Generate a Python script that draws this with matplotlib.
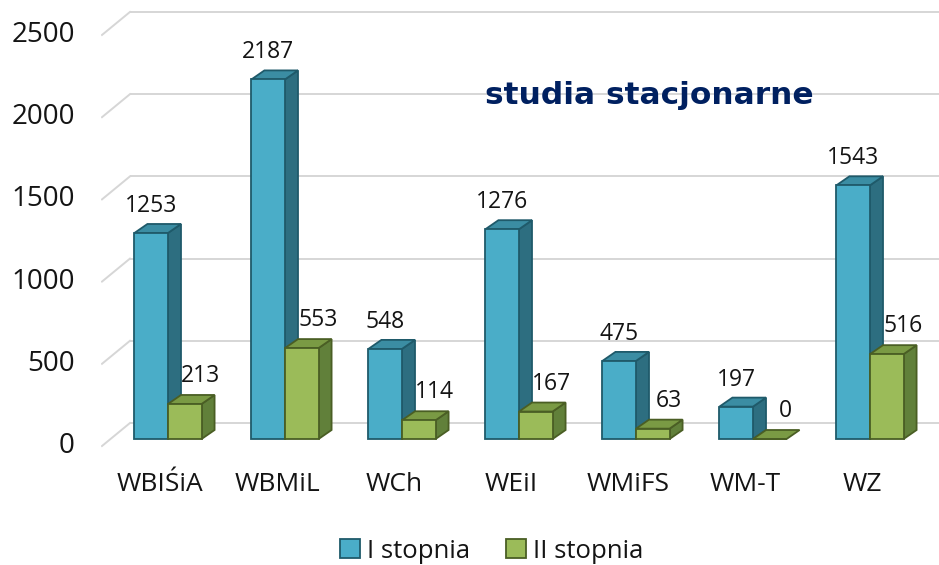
import matplotlib
matplotlib.use('Agg')
import matplotlib.pyplot as plt
from matplotlib.patches import Polygon, Patch

categories = ['WBIŚiA', 'WBMiL', 'WCh', 'WEiI', 'WMiFS', 'WM-T', 'WZ']
stopien_1 = [1253, 2187, 548, 1276, 475, 197, 1543]
stopien_2 = [213, 553, 114, 167, 63, 0, 516]
yticks = [0, 500, 1000, 1500, 2000, 2500]
series_names = ['I stopnia', 'II stopnia']

plt.rcParams['font.family'] = ['Open Sans', 'DejaVu Sans']

W, H, DPI = 939, 565, 100
fig = plt.figure(figsize=(W / DPI, H / DPI), dpi=DPI)
# plot area: 101..939 px wide, 0..460 px from top
ax = fig.add_axes([101 / W, (H - 460) / H, 838 / W, 460 / H])
ax.set_xlim(-0.5726, 6.5897)
ax.set_ylim(-127.7, 2670)
ax.axis('off')

px_x = 1 / 117.0    # category units per pixel
px_y = 1 / 0.1644   # value units per pixel

grid_c = '#d6d6d6'
txt_c = '#141414'

# back wall gridlines + left diagonal
for v in yticks:
    ax.plot([-0.325, 6.5897], [v + 16 * px_y] * 2, color=grid_c, lw=1.4, zorder=0,
            solid_capstyle='butt')
    ax.plot([-0.564, -0.325], [v - 7 * px_y, v + 16 * px_y], color=grid_c, lw=1.4, zorder=0)
    ax.annotate(str(v), (0, v), xycoords=ax.get_yaxis_transform(), xytext=(-26, -7),
                textcoords='offset pixels', ha='right', va='center', fontsize=20,
                color=txt_c, annotation_clip=False)

bw = 0.287
dx, dy = 13 * px_x, 9 * px_y

styles = [
    dict(front='#4aadc8', side='#2d6e80', top='#3b8da3', edge='#1f5a6a'),
    dict(front='#9bbb59', side='#61803a', top='#7a9a44', edge='#4a5e24'),
]


def bar3d(x0, v, st, z):
    x1 = x0 + bw
    ax.bar(x0, v, width=bw, align='edge', color=st['front'], edgecolor=st['edge'],
           lw=1.3, zorder=z + 0.2)
    side = [(x1, 0), (x1 + dx, dy), (x1 + dx, v + dy), (x1, v)]
    top = [(x0, v), (x1, v), (x1 + dx, v + dy), (x0 + dx, v + dy)]
    if v > 0:
        ax.add_patch(Polygon(side, closed=True, fc=st['side'], ec=st['edge'], lw=1.3, zorder=z))
    ax.add_patch(Polygon(top, closed=True, fc=st['top'], ec=st['edge'], lw=1.3, zorder=z + 0.1))


for i, cat in enumerate(categories):
    z = 2 + i * 2
    bar3d(i - bw, stopien_1[i], styles[0], z)
    bar3d(i, stopien_2[i], styles[1], z + 1)
    ax.annotate(str(stopien_1[i]), (i - bw / 2, stopien_1[i]), xytext=(0, 27),
                textcoords='offset pixels', ha='center', va='center', fontsize=16.5,
                color=txt_c)
    ax.annotate(str(stopien_2[i]), (i + bw / 2, stopien_2[i]), xytext=(16, 28),
                textcoords='offset pixels', ha='center', va='center', fontsize=16.5,
                color=txt_c)
    ax.annotate(cat, (i, 0), xytext=(-8, -45), textcoords='offset pixels',
                ha='center', va='center', fontsize=19, color=txt_c, annotation_clip=False)

fig.text(485 / W, 1 - 96 / H, 'studia stacjonarne', fontsize=22.5, fontweight='bold',
         color='#002060', family='DejaVu Sans', ha='left', va='center')

handles = [Patch(fc=styles[0]['front'], ec=styles[0]['edge'], lw=1.3),
           Patch(fc=styles[1]['front'], ec=styles[1]['edge'], lw=1.3)]
fig.legend(handles, series_names, loc='center', bbox_to_anchor=(492 / W, 1 - 551 / H),
           ncol=2, frameon=False, fontsize=18.5, handlelength=0.75, handleheight=0.75,
           handletextpad=0.3, columnspacing=1.4, labelcolor=txt_c)

fig.savefig('out.png', dpi=DPI)
